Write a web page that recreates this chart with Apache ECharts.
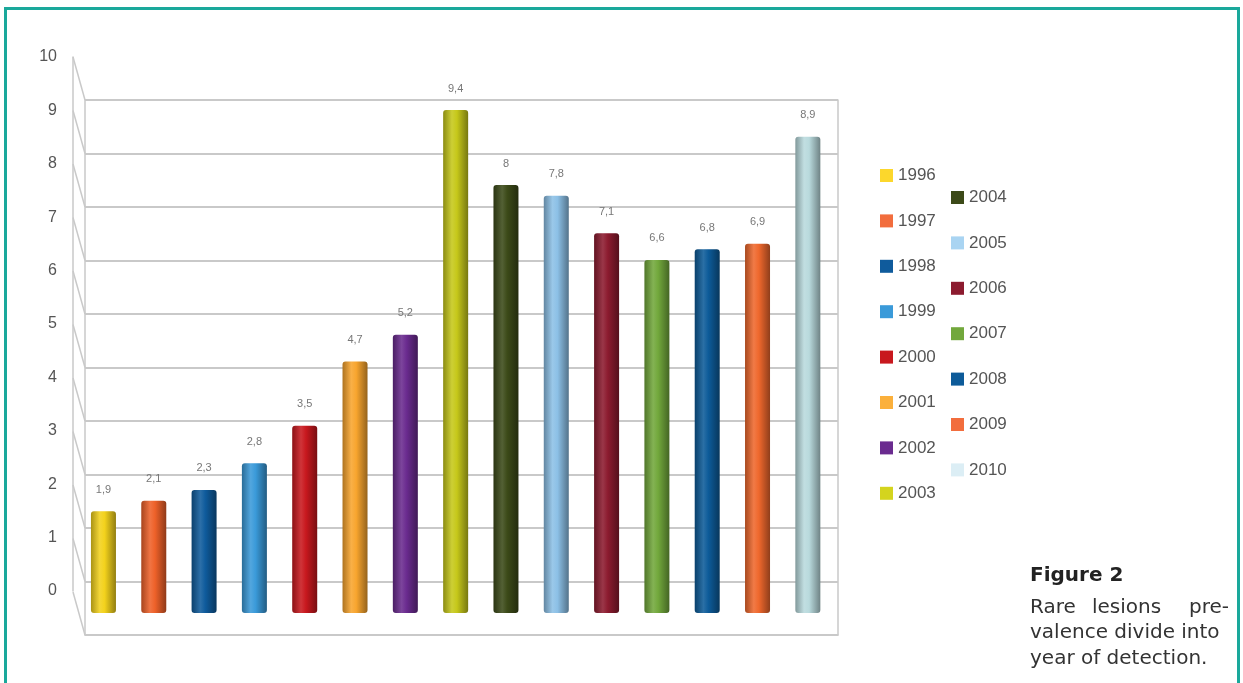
<!DOCTYPE html>
<html><head><meta charset="utf-8">
<script src="https://cdn.jsdelivr.net/npm/echarts@6/dist/echarts.min.js"></script>
<style>html,body{margin:0;padding:0;background:#fff}#c{width:1243px;height:683px}</style>
</head><body><div id="c"></div>
<script>
const years = ['1996','1997','1998','1999','2000','2001','2002','2003','2004','2005','2006','2007','2008','2009','2010'];
const values = [1.9,2.1,2.3,2.8,3.5,4.7,5.2,9.4,8,7.8,7.1,6.6,6.8,6.9,8.9];
const barColors = ['#f3d21c','#ee6129','#0f5b9c','#3a9ad9','#c8181e','#f8a52e','#6a2b8f','#c6c81a','#3c4a18','#8cc0e6','#8c1b2f','#72a83c','#0d5b99','#ef682d','#b9dadd'];
const legendColors = ['#fcd72c','#f26d3d','#0f5b9c','#3a9ad9','#c8181e','#fbb03b','#6a2b8f','#d4d41e','#3c4a18','#a9d4f2','#8c1b2f','#72a83c','#0d5b99','#f26d3d','#dceef5'];
const yTicks = [0,1,2,3,4,5,6,7,8,9,10];

function shade(hex, f){
  const n = parseInt(hex.slice(1),16);
  let r=(n>>16)&255,g=(n>>8)&255,b=n&255;
  if(f<0){r=r*(1+f);g=g*(1+f);b=b*(1+f);}else{r=r+(255-r)*f;g=g+(255-g)*f;b=b+(255-b)*f;}
  return 'rgb('+Math.round(r)+','+Math.round(g)+','+Math.round(b)+')';
}
function cyl(c){
  return {type:'linear',x:0,y:0,x2:1,y2:0,colorStops:[
    {offset:0,color:shade(c,-0.3)},{offset:0.35,color:shade(c,0.12)},{offset:0.55,color:c},{offset:1,color:shade(c,-0.4)}]};
}

const gridColor = '#c9c9c9';
const series = years.map((y,i)=>({
  name:y, type:'bar', xAxisIndex:2, yAxisIndex:3, barWidth:25, barGap:'-100%',
  data: years.map((_,j)=> j===i ? values[j] : '-'),
  itemStyle:{color:cyl(barColors[i]), borderRadius:[3,3,3,3]},
  label:{show:true, position:'top', distance:16, color:'#777', fontSize:11, fontFamily:'Liberation Sans, Arial',
    formatter:p=>String(p.value).replace('.',',')},
  z:5
}));
series.push({
  type:'custom', xAxisIndex:0, yAxisIndex:0, silent:true,
  data: yTicks.map(v=>[0,v]),
  renderItem:(params,api)=>{
    const p = api.coord([0, api.value(1)]);
    return {type:'line', shape:{x1:p[0]-12,y1:p[1]-43,x2:p[0],y2:p[1]}, style:{stroke:gridColor, lineWidth:1.5}};
  }, z:1
});

const legendBase = {orient:'vertical', padding:0, itemWidth:13, itemHeight:13, icon:'rect',
  textStyle:{color:'#555', fontSize:17, fontFamily:'Liberation Sans, Arial', lineHeight:17}, itemGap:28.4, selectedMode:false};

const capFont = '20px "DejaVu Sans", Verdana';
const chart = echarts.init(document.getElementById('c'));
chart.setOption({
  animation:false,
  grid:[
    {left:85, right:405, top:100, bottom:48},
    {left:73, width:1, top:57, bottom:92},
    {left:78.3, right:410, top:78, bottom:70}
  ],
  xAxis:[
    {type:'value', gridIndex:0, min:0, max:1, show:true, offset:2, axisLine:{show:true,lineStyle:{color:gridColor,width:1.5}}, axisTick:{show:false}, axisLabel:{show:false}, splitLine:{show:false}},
    {type:'value', gridIndex:1, min:0, max:1, show:false},
    {type:'category', gridIndex:2, data:years, show:false}
  ],
  yAxis:[
    {type:'value', gridIndex:0, min:0, max:10, interval:1, axisLine:{show:true,lineStyle:{color:gridColor,width:1.5}}, axisTick:{show:false}, axisLabel:{show:false}, splitLine:{show:true,lineStyle:{color:gridColor,width:2}}},
    {type:'value', gridIndex:0, position:'right', min:0, max:10, interval:1, axisLine:{show:true,lineStyle:{color:gridColor,width:1.5}}, axisTick:{show:false}, axisLabel:{show:false}, splitLine:{show:false}},
    {type:'value', gridIndex:1, min:0, max:10, interval:1, axisLine:{show:true,lineStyle:{color:gridColor,width:1.5}}, axisTick:{show:false}, splitLine:{show:false},
      axisLabel:{show:true, margin:16, color:'#555', fontSize:16, fontFamily:'Liberation Sans, Arial'}},
    {type:'value', gridIndex:2, min:0, max:10, show:false}
  ],
  legend:[
    Object.assign({}, legendBase, {left:880, top:167, data:years.slice(0,8).map((y,i)=>({name:y,itemStyle:{color:legendColors[i]}}))}),
    Object.assign({}, legendBase, {left:951, top:189, data:years.slice(8).map((y,i)=>({name:y,itemStyle:{color:legendColors[i+8]}}))})
  ],
  graphic:[
    {type:'rect', shape:{x:5.5,y:8.5,width:1233,height:700}, style:{fill:null, stroke:'#1aa89b', lineWidth:3}, silent:true},
    {type:'text', left:1030, top:566, style:{text:'Figure 2', font:'bold 20px "DejaVu Sans", Verdana', fill:'#222'}},
    {type:'text', left:1030, top:598, style:{text:'Rare', font:capFont, fill:'#333'}},
    {type:'text', left:1092, top:598, style:{text:'lesions', font:capFont, fill:'#333'}},
    {type:'text', right:14, top:598, style:{text:'pre-', font:capFont, fill:'#333'}},
    {type:'text', left:1030, top:623, style:{text:'valence divide into', font:capFont, fill:'#333'}},
    {type:'text', left:1030, top:649, style:{text:'year of detection.', font:capFont, fill:'#333'}}
  ],
  series:series
});
</script></body></html>
